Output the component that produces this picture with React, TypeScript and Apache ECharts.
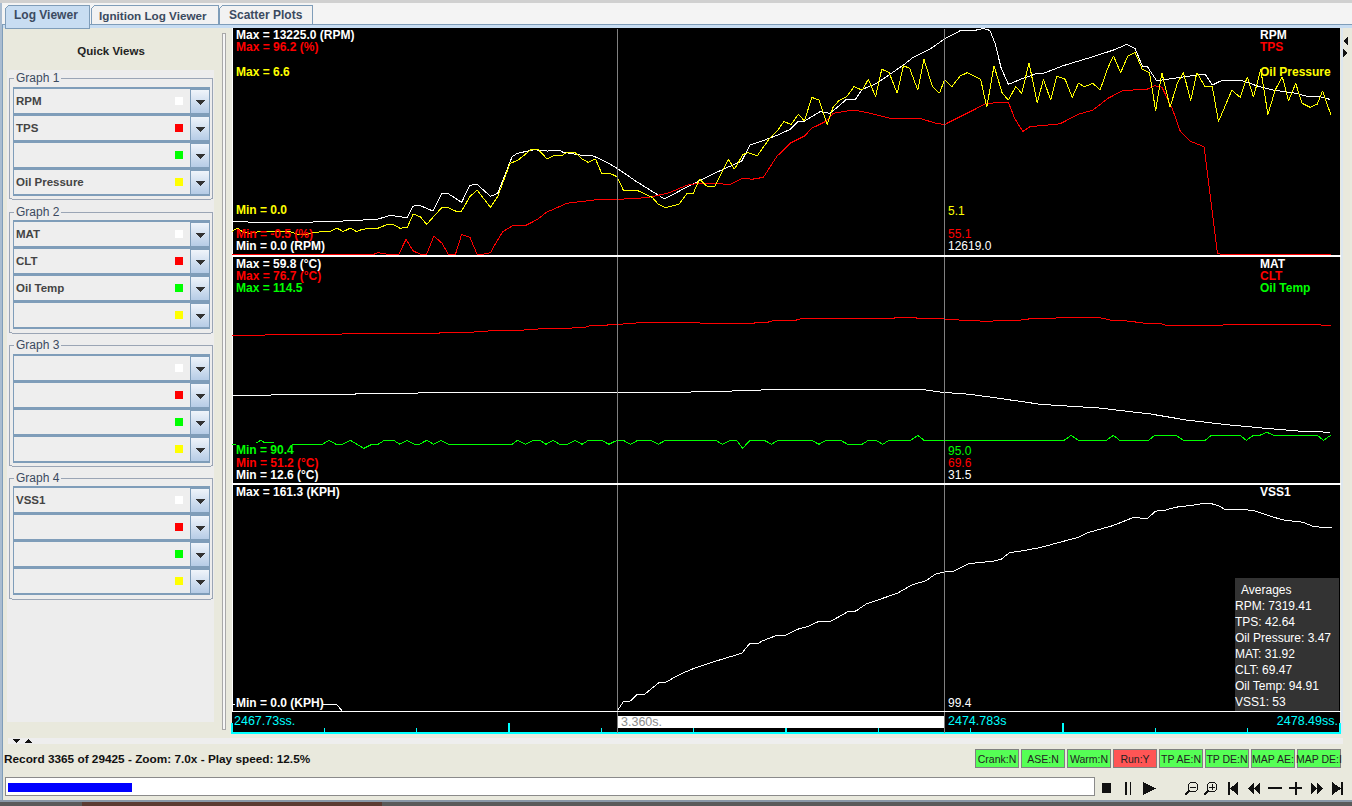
import React, { useEffect, useRef } from "react";
import * as echarts from "echarts";

// elapsed seconds from the left edge of the view, value
const rpm = [[0,1919],[0.3,1884],[0.63,1884],[0.95,1919],[1.27,2018],[1.42,2077],[1.54,2293],[1.7,2153],[1.76,2837],[1.83,2855],[1.95,2545],[2.04,3598],[2.1,3557],[2.23,3054],[2.31,4048],[2.38,4107],[2.51,3405],[2.58,3580],[2.72,5721],[2.77,5920],[2.89,6072],[2.94,6131],[3.06,6055],[3.19,6072],[3.21,5996],[3.38,5821],[3.51,5762],[3.64,5394],[3.74,5043],[3.86,4551],[3.93,4259],[4.06,3773],[4.2,3247],[4.35,3732],[4.57,4417],[4.74,4902],[4.95,5470],[5.03,6406],[5.13,6599],[5.3,6991],[5.42,7324],[5.5,7792],[5.56,7810],[5.71,8354],[5.81,8260],[5.97,9097],[6.05,9038],[6.12,9664],[6.26,10015],[6.52,11086],[6.61,11513],[6.78,12022],[6.92,12619],[7.07,13092],[7.2,13092],[7.29,13225],[7.36,13116],[7.41,12355],[7.47,10893],[7.54,9957],[7.68,10308],[7.82,10600],[7.88,10600],[8.07,11045],[8.36,11571],[8.56,11963],[8.69,12297],[8.77,12063],[8.84,11027],[8.89,10986],[8.98,10167],[9.14,10308],[9.37,10501],[9.45,10559],[9.52,9916],[9.62,10208],[9.79,10208],[9.98,9816],[10.11,9623],[10.34,9430],[10.45,9231],[10.57,9231],[10.66,9079]];
const tps = [[0,-0.5],[1.37,-0.5],[1.42,0.3],[1.51,-0.4],[1.62,-0.4],[1.69,6],[1.76,1],[1.83,-0.4],[1.89,-0.4],[1.96,7.4],[2.04,4.3],[2.1,-0.4],[2.17,-0.4],[2.23,8.1],[2.31,6.9],[2.38,-0.4],[2.44,-0.4],[2.51,0.3],[2.57,5],[2.63,9.3],[2.72,11.7],[2.86,12.1],[2.97,14.6],[3.06,17.8],[3.12,18.8],[3.25,21.4],[3.38,22.1],[3.57,23.1],[3.89,23.3],[4.08,24.2],[4.25,26],[4.42,29.2],[4.54,30],[4.71,29.8],[4.84,29.5],[4.96,32.1],[5.05,31.7],[5.16,32.5],[5.29,41.4],[5.42,47.1],[5.56,50.2],[5.63,53.5],[5.76,56.3],[5.84,59.9],[5.97,60.9],[6.05,61.2],[6.2,59.9],[6.39,57.8],[6.68,57.8],[6.83,55.7],[6.92,55.1],[7.04,57.8],[7.33,64.2],[7.54,64.6],[7.6,57.8],[7.68,52.1],[7.75,54.2],[8.04,55.4],[8.22,59.5],[8.36,61.3],[8.51,66.4],[8.65,69.6],[8.89,70.3],[8.96,71.7],[9.03,71.1],[9.13,62.1],[9.21,52.1],[9.3,48.1],[9.44,45.6],[9.57,0],[9.61,-0.5],[10.67,-0.5]];
const oilPressure = [[0,0.67],[0.05,0.77],[0.11,0.65],[0.17,0.62],[0.27,0.67],[0.56,0.67],[0.64,0.59],[0.71,0.57],[0.79,0.65],[0.95,0.67],[1.02,0.77],[1.08,0.67],[1.15,0.77],[1.21,0.67],[1.27,0.74],[1.42,0.77],[1.51,0.88],[1.56,0.88],[1.63,0.77],[1.7,0.78],[1.76,1.18],[1.83,1.1],[1.89,0.88],[2.04,1.38],[2.1,1.37],[2.17,1.27],[2.23,1.27],[2.31,1.69],[2.38,1.88],[2.51,1.38],[2.58,1.69],[2.7,2.66],[2.78,2.76],[2.91,3.08],[2.97,3.08],[3.06,2.79],[3.12,2.88],[3.2,2.88],[3.25,2.98],[3.33,2.98],[3.4,2.79],[3.46,2.69],[3.53,2.79],[3.59,2.37],[3.67,2.37],[3.74,2.27],[3.8,1.88],[3.93,1.88],[4.08,1.67],[4.14,1.47],[4.21,1.37],[4.34,1.47],[4.42,1.79],[4.48,1.79],[4.54,2.2],[4.61,2],[4.69,2],[4.82,2.78],[4.88,2.49],[4.96,2.91],[5.01,2.98],[5.1,2.88],[5.22,3.39],[5.29,3.59],[5.36,3.88],[5.43,3.8],[5.5,4.09],[5.56,3.9],[5.63,4.59],[5.7,4.51],[5.78,3.8],[5.84,4.32],[5.9,4.51],[5.97,4.61],[6.04,4.9],[6.12,4.8],[6.18,5.12],[6.25,4.61],[6.31,5.41],[6.38,5.32],[6.46,4.71],[6.52,5.51],[6.58,5.44],[6.66,4.8],[6.72,5.7],[6.8,4.92],[6.87,4.71],[6.92,5.1],[6.99,4.9],[7.07,5.21],[7.14,5.31],[7.27,5.12],[7.33,4.3],[7.4,5.51],[7.48,4.71],[7.54,4.51],[7.61,4.9],[7.67,4.71],[7.74,5.6],[7.82,4.42],[7.88,5.12],[7.95,4.51],[8.01,5.21],[8.09,5.12],[8.16,4.59],[8.22,5],[8.28,4.9],[8.36,5],[8.43,4.8],[8.5,5.41],[8.56,5.8],[8.63,5.31],[8.7,5.8],[8.77,5.9],[8.84,5.41],[8.91,5.31],[8.97,4.2],[9.03,5.31],[9.11,4.3],[9.18,5],[9.24,5.31],[9.31,4.49],[9.37,5.31],[9.45,4.9],[9.52,4.9],[9.58,3.88],[9.71,4.8],[9.79,4.59],[9.86,5.19],[9.92,4.59],[9.99,5.41],[10.06,4.09],[10.13,4.8],[10.2,5.19],[10.26,4.49],[10.33,5],[10.39,4.42],[10.47,4.3],[10.54,4.39],[10.59,4.78],[10.67,4.09]];
const mat = [[0,30.91],[0.37,30.91],[0.4,31.12],[1.19,31.12],[1.22,31.33],[1.8,31.33],[1.83,31.54],[4.45,31.54],[4.48,31.75],[4.85,31.75],[4.88,31.96],[5.13,31.96],[5.16,32.16],[6.7,32.16],[6.76,31.96],[6.83,31.75],[6.9,31.54],[7.03,31.33],[7.17,31.12],[7.24,30.91],[7.31,30.7],[7.45,30.29],[7.58,29.87],[7.72,29.45],[7.85,29.03],[8.42,28.26],[8.92,27.01],[9.27,25.75],[9.41,25.4],[9.69,24.71],[10.04,24.02],[10.35,23.46],[10.66,23.19]];
const clt = [[0,67.86],[0.3,67.86],[0.35,67.97],[1.05,67.97],[1.1,68.09],[2,68.09],[2.05,68.2],[2.33,68.2],[2.38,68.31],[2.47,68.31],[2.52,68.42],[2.82,68.42],[2.86,68.53],[2.95,68.53],[3,68.65],[3.29,68.65],[3.33,68.76],[3.43,68.76],[3.48,68.99],[3.63,68.99],[3.68,69.1],[3.78,69.1],[3.83,69.21],[3.91,69.21],[3.96,69.33],[4.52,69.33],[4.56,69.21],[5.06,69.21],[5.1,69.33],[5.2,69.33],[5.26,69.55],[5.47,69.55],[5.54,69.78],[6.42,69.78],[6.46,69.89],[6.62,69.89],[6.66,69.78],[6.89,69.78],[6.93,69.67],[7.03,69.67],[7.07,69.55],[7.24,69.55],[7.28,69.44],[7.38,69.44],[7.42,69.55],[7.65,69.55],[7.69,69.67],[7.72,69.67],[7.77,69.78],[7.99,69.78],[8.03,69.89],[8.39,69.89],[8.46,69.78],[8.54,69.55],[8.65,69.55],[8.72,69.44],[8.8,69.33],[8.87,69.21],[9.01,69.21],[9.07,68.99],[9.61,68.99],[9.66,69.1],[10.54,69.1],[10.59,68.99],[10.67,68.99]];
const oilTemp = [[0,94.53],[0.22,94.6],[0.28,94.95],[0.31,94.74],[0.59,94.53],[0.88,94.53],[0.94,94.95],[1.01,94.53],[1.07,94.53],[1.15,94.95],[1.28,94.1],[1.36,94.53],[1.42,94.53],[1.48,94.95],[1.57,94.95],[1.63,94.53],[1.7,94.95],[1.77,94.53],[1.82,94.53],[1.89,94.95],[1.96,94.53],[2.03,94.95],[2.1,94.53],[2.72,94.53],[2.77,94.95],[2.85,94.53],[2.93,94.95],[2.99,94.95],[3.05,94.53],[3.12,94.95],[3.18,94.53],[3.26,94.53],[3.33,94.95],[3.4,94.53],[3.46,94.95],[3.59,94.95],[3.66,94.53],[3.74,94.95],[3.8,94.95],[3.87,94.53],[3.94,94.95],[4.07,94.95],[4.14,94.53],[4.21,94.95],[4.7,94.95],[4.76,94.53],[4.84,94.95],[4.9,94.95],[4.96,94.1],[5.03,94.95],[5.17,94.95],[5.24,94.53],[5.3,94.95],[5.63,94.95],[5.7,94.53],[5.77,94.95],[5.91,94.95],[5.98,94.53],[6.12,94.53],[6.18,94.95],[6.25,94.95],[6.32,94.53],[6.38,94.95],[6.59,94.95],[6.66,95.48],[6.72,94.95],[8.08,94.95],[8.15,95.48],[8.22,94.95],[8.49,94.95],[8.56,95.48],[8.62,94.95],[8.9,94.95],[8.96,95.48],[9.17,95.48],[9.24,94.95],[9.45,94.95],[9.51,95.48],[9.79,95.48],[9.85,94.95],[9.92,95.48],[9.98,95.48],[10.05,95.8],[10.12,95.48],[10.54,95.48],[10.6,94.95],[10.67,95.48]];
const vss1 = [[0,4.3],[1.02,4.3],[1.07,0],[3.74,0],[3.8,6.6],[3.86,6.6],[3.94,12.1],[4.01,12.1],[4.15,20.5],[4.21,20.5],[4.37,26.9],[4.49,30.5],[4.65,34.5],[4.95,41.2],[5.03,48.3],[5.11,48.3],[5.15,50],[5.29,54],[5.37,54],[5.5,58.5],[5.59,60.2],[5.7,64],[5.82,64.2],[5.98,70.9],[6.06,71.4],[6.16,76.4],[6.46,84],[6.6,89.9],[6.74,93],[6.83,97.6],[6.93,99.4],[7.01,99.9],[7.15,104.9],[7.26,106.1],[7.38,106.6],[7.47,108.3],[7.55,113],[7.65,114],[7.84,116.5],[8.22,124],[8.32,127.5],[8.55,132.2],[8.75,138],[8.89,137.5],[8.97,142.7],[9.05,143],[9.16,145.4],[9.32,146.8],[9.42,148],[9.51,148],[9.58,146.5],[9.65,143.5],[9.81,144],[9.94,142.7],[10.13,138],[10.22,136.3],[10.4,134.7],[10.49,132],[10.58,131.1],[10.68,130.8]];
const cursorTimes = [3.74, 6.92];
const viewSpan = 10.76;

const rangeRpm = [0, 13225];
const rangeTps = [-0.5, 96.2];
const rangeOil = [0, 6.6];
const rangeMat = [12.6, 59.8];
const rangeClt = [51.2, 76.7];
const rangeOilTemp = [90.4, 114.5];
const rangeVss = [0, 161.3];

const slots = [
  { title: "Graph 1", names: ["RPM", "TPS", "", "Oil Pressure"] },
  { title: "Graph 2", names: ["MAT", "CLT", "Oil Temp", ""] },
  { title: "Graph 3", names: ["", "", "", ""] },
  { title: "Graph 4", names: ["VSS1", "", "", ""] },
];
const averages = ["RPM: 7319.41", "TPS: 42.64", "Oil Pressure: 3.47", "MAT: 31.92", "CLT: 69.47", "Oil Temp: 94.91", "VSS1: 53"];
const flags = [
  ["Crank:N", false], ["ASE:N", false], ["Warm:N", false], ["Run:Y", true],
  ["TP AE:N", false], ["TP DE:N", false], ["MAP AE:", false], ["MAP DE:I", false],
] as [string, boolean][];

const FF = '"Liberation Sans"';
const WHITE = "#FFFFFF", RED = "#FF0000", YEL = "#FFFF00", GRN = "#00FF00", CYAN = "#00FFFF";
const swatches = [WHITE, RED, GRN, YEL];

function rect(x: number, y: number, w: number, h: number, fill: any, stroke?: string, lw = 1, z = -1, r = 0) {
  return { type: "rect", z, silent: true, shape: { x, y, width: w, height: h, r }, style: { fill, stroke: stroke || "none", lineWidth: lw } };
}
function txt(x: number, y: number, text: string, fill: string, size = 12, weight = "normal", align = "left", z = 10) {
  return {
    type: "text", z, silent: true, x, y,
    style: { text, fill, font: `${weight} ${size}px ${FF}`, textAlign: align, align, textVerticalAlign: "middle", verticalAlign: "middle" },
  };
}
function poly(points: number[][], fill: string, z = 5) {
  return { type: "polygon", z, silent: true, shape: { points }, style: { fill } };
}
function seg(x1: number, y1: number, x2: number, y2: number, stroke: string, lw = 1, z = 5) {
  return { type: "line", z, silent: true, shape: { x1, y1, x2, y2 }, style: { stroke, lineWidth: lw } };
}

function buildChrome() {
  const g: any[] = [];
  // frame and top bar
  g.push(rect(0, 0, 1352, 806, "#E9E9DD"));
  g.push(rect(0, 0, 1352, 3, "#D0D0D0"));
  g.push(rect(0, 3, 1352, 22, "#F4F4F4"));
  g.push(rect(0, 24, 1352, 1, "#7F9DB9"));
  g.push(rect(0, 25, 1352, 3, "#C8DDF2"));
  g.push(rect(0, 3, 2, 798, "#A9BCD0"));
  g.push(rect(2, 24, 1, 777, "#7F9DB9"));
  // tabs
  g.push({ type: "polygon", z: -1, silent: true, shape: { points: [[5, 9], [9, 5], [89, 5], [89, 28], [5, 28]] }, style: { fill: "#C8DDF2", stroke: "#7F9DB9", lineWidth: 1 } });
  g.push({ type: "polygon", z: -1, silent: true, shape: { points: [[91, 9], [95, 5], [218, 5], [218, 24], [91, 24]] }, style: { fill: "#F2F2F2", stroke: "#7F9DB9", lineWidth: 1 } });
  g.push({ type: "polygon", z: -1, silent: true, shape: { points: [[219, 9], [223, 5], [312, 5], [312, 24], [219, 24]] }, style: { fill: "#F2F2F2", stroke: "#7F9DB9", lineWidth: 1 } });
  g.push(txt(14, 15, "Log Viewer", "#3B4A60", 12, "bold"));
  g.push(txt(99, 15, "Ignition Log Viewer", "#3B4A60", 11.7, "bold"));
  g.push(txt(229, 15, "Scatter Plots", "#3B4A60", 12, "bold"));
  // left panel
  g.push(rect(7, 70, 207, 652, "#EDEDED"));
  g.push(txt(111, 51, "Quick Views", "#222222", 11.5, "bold", "center"));
  const titleY = [78, 212, 345, 478];
  const firstRow = [101, 234, 368, 500];
  slots.forEach((s, gi) => {
    const ty = titleY[gi];
    g.push(rect(9.5, ty, 203, 121, "none", "#9AA5B5", 1, -1, 2));
    g.push(rect(14, ty - 6, 47, 12, "#EDEDED"));
    g.push(txt(16, ty, s.title, "#3B4A60", 12));
    s.names.forEach((name, i) => {
      const cy = firstRow[gi] + i * 27;
      g.push(rect(13.5, cy - 13, 196, 26, "#EEEEEE", "#7F9DB9", 1.5));
      g.push(rect(190.5, cy - 12, 19, 24, { type: "linear", x: 0, y: 0, x2: 0, y2: 1, colorStops: [{ offset: 0, color: "#F2F6FB" }, { offset: 1, color: "#B6CCE6" }] }, "#7F9DB9", 1));
      g.push(poly([[195, cy - 1], [205, cy - 1], [200, cy + 4]], "#333333"));
      g.push(rect(175, cy - 4, 8, 8, swatches[i]));
      if (name) g.push(txt(16, cy, name, "#444444", 11.5, "bold"));
    });
  });
  // splitter
  g.push(rect(222.5, 33, 3, 696, "#F6F6F6", "#A8A8A8", 1));
  // chart background and separators
  g.push(rect(232, 28, 1108, 705, "#000000"));
  g.push(rect(232, 28, 1, 684, WHITE));
  g.push(rect(232, 255, 1109, 2, WHITE));
  g.push(rect(232, 483, 1109, 2, WHITE));
  g.push(rect(232, 711, 1109, 1, WHITE));
  // right edge
  g.push(rect(1341, 28, 2, 705, "#DCE6F0"));
  g.push(poly([[1348, 37], [1348, 45], [1343, 41]], "#111111"));
  g.push(poly([[1343, 49], [1343, 57], [1348, 53]], "#111111"));
  // panel texts
  const L = 236, R = 1260, C = 948;
  g.push(txt(L, 35, "Max = 13225.0 (RPM)", WHITE, 12, "bold"));
  g.push(txt(L, 47, "Max = 96.2 (%)", RED, 12, "bold"));
  g.push(txt(L, 72, "Max = 6.6", YEL, 12, "bold"));
  g.push(txt(L, 210, "Min = 0.0", YEL, 12, "bold"));
  g.push(txt(L, 234, "Min = -0.5 (%)", RED, 12, "bold"));
  g.push(txt(L, 246, "Min = 0.0 (RPM)", WHITE, 12, "bold"));
  g.push(txt(R, 35, "RPM", WHITE, 12, "bold"));
  g.push(txt(R, 47, "TPS", RED, 12, "bold"));
  g.push(txt(R, 72, "Oil Pressure", YEL, 12, "bold"));
  g.push(txt(C, 211, "5.1", YEL));
  g.push(txt(C, 234, "55.1", RED));
  g.push(txt(C, 246, "12619.0", WHITE));
  g.push(txt(L, 263.5, "Max = 59.8 (°C)", WHITE, 12, "bold"));
  g.push(txt(L, 275.5, "Max = 76.7 (°C)", RED, 12, "bold"));
  g.push(txt(L, 287.5, "Max = 114.5", GRN, 12, "bold"));
  g.push(rect(236, 443, 56, 14, "#000000", undefined, 1, 9));
  g.push(txt(L, 450, "Min = 90.4", GRN, 12, "bold"));
  g.push(txt(L, 462.5, "Min = 51.2 (°C)", RED, 12, "bold"));
  g.push(txt(L, 475, "Min = 12.6 (°C)", WHITE, 12, "bold"));
  g.push(txt(R, 263.5, "MAT", WHITE, 12, "bold"));
  g.push(txt(R, 275.5, "CLT", RED, 12, "bold"));
  g.push(txt(R, 287.5, "Oil Temp", GRN, 12, "bold"));
  g.push(txt(C, 450.5, "95.0", GRN));
  g.push(txt(C, 463, "69.6", RED));
  g.push(txt(C, 475, "31.5", WHITE));
  g.push(txt(L, 492, "Max = 161.3 (KPH)", WHITE, 12, "bold"));
  g.push(txt(R, 492, "VSS1", WHITE, 12, "bold"));
  g.push(rect(235, 697, 88, 12, "#000000", undefined, 1, 9));
  g.push(txt(L, 703, "Min = 0.0 (KPH)", WHITE, 12, "bold"));
  g.push(txt(C, 703, "99.4", WHITE));
  // averages
  g.push(rect(1235, 578, 104, 133, "#333333", undefined, 1, 9));
  g.push(txt(1241, 590, "Averages", WHITE, 12));
  averages.forEach((a, i) => g.push(txt(1235, 606 + i * 16, a, WHITE, 12)));
  // time strip
  g.push(txt(234, 721, "2467.73ss.", CYAN, 12.5));
  g.push(txt(621, 722, "3.360s.", "#8A8A8A", 12.5));
  g.push(txt(948, 721, "2474.783s", CYAN, 12.5));
  g.push(txt(1338, 721, "2478.49ss.", CYAN, 12.5, "normal", "right"));
  // lower divider
  g.push(rect(8, 738, 1335, 6, "#EEEEEE"));
  g.push(poly([[12, 739], [20, 739], [16, 743]], "#111111"));
  g.push(poly([[24, 743], [32, 743], [28, 739]], "#111111"));
  g.push(txt(4, 759, "Record 3365 of 29425 - Zoom: 7.0x - Play speed: 12.5%", "#111111", 11.8, "bold"));
  // status flags
  flags.forEach(([label, on], i) => {
    const x = 975 + i * 46;
    g.push(rect(x + 0.5, 749.5, 43, 18, on ? "#FF5555" : "#55FF55", "#808080", 1));
    g.push(txt(x + 22, 759, label, "#222222", 10.5, "normal", "center"));
  });
  // progress bar
  g.push(rect(5.5, 777.5, 1089, 18, "#FFFFFF", "#8A8A8A", 1));
  g.push(rect(8, 783, 123.5, 9, "#0000FF"));
  // transport icons
  const k = "#111111";
  g.push(rect(1102, 783, 9, 10, k, undefined, 1, 5));
  g.push(rect(1125, 782, 1.5, 13, k, undefined, 1, 5));
  g.push(rect(1129.5, 782, 1.5, 13, k, undefined, 1, 5));
  g.push(poly([[1143, 782], [1156, 788.5], [1143, 795]], k));
  [1193, 1212].forEach((cx, i) => {
    g.push({ type: "circle", z: 5, silent: true, shape: { cx, cy: 787, r: 5 }, style: { fill: "none", stroke: k, lineWidth: 1 } });
    g.push(seg(cx - 4, 791, cx - 8, 795, k, 1.5));
    g.push(seg(cx - 3, 787, cx + 3, 787, k, 1));
    if (i) g.push(seg(cx, 784, cx, 790, k, 1));
  });
  g.push(rect(1228, 782, 2, 13, k, undefined, 1, 5));
  g.push(poly([[1238, 782], [1238, 795], [1230, 788.5]], k));
  g.push(poly([[1254, 782], [1254, 795], [1248, 788.5]], k));
  g.push(poly([[1260, 782], [1260, 795], [1254, 788.5]], k));
  g.push(rect(1268, 787, 14, 2, k, undefined, 1, 5));
  g.push(rect(1289, 787, 13, 2, k, undefined, 1, 5));
  g.push(rect(1294.5, 782, 2, 13, k, undefined, 1, 5));
  g.push(poly([[1311, 782], [1311, 795], [1317, 788.5]], k));
  g.push(poly([[1317, 782], [1317, 795], [1323, 788.5]], k));
  g.push(poly([[1332, 782], [1332, 795], [1341, 788.5]], k));
  g.push(rect(1341, 782, 2, 13, k, undefined, 1, 5));
  // window bottom edge and desktop
  g.push(rect(0, 800, 1352, 2, "#8A98A8"));
  g.push(rect(0, 802, 1352, 4, "#5A5A5A"));
  g.push(rect(82, 802, 300, 4, "#5C3B32"));
  return g;
}

const cursorMark = {
  silent: true, symbol: ["none", "none"], animation: false, label: { show: false },
  lineStyle: { color: "#808080", width: 1, type: "solid", opacity: 1 },
  data: cursorTimes.map((t) => ({ xAxis: t })),
};

function line(name: string, data: number[][], color: string, xAxisIndex: number, yAxisIndex: number, withCursor = false) {
  return {
    name, type: "line", data, xAxisIndex, yAxisIndex, showSymbol: false, symbol: "none", clip: false, silent: true,
    lineStyle: { color, width: 1 }, itemStyle: { color }, markLine: withCursor ? cursorMark : undefined,
  };
}
function yAx(gridIndex: number, r: number[]) {
  return { type: "value", gridIndex, min: r[0], max: r[1], show: false, splitLine: { show: false } };
}
function xAx(gridIndex: number) {
  return { type: "value", gridIndex, min: 0, max: viewSpan, show: false, splitLine: { show: false } };
}

export default function App() {
  const ref = useRef<HTMLDivElement>(null);
  useEffect(() => {
    document.body.style.margin = "0";
    document.body.style.overflow = "hidden";
    const chart = echarts.init(ref.current!, undefined, { renderer: "svg" });
    chart.setOption({
      animation: false,
      backgroundColor: "#E9E9DD",
      grid: [
        { left: 232, width: 1108, top: 28.5, height: 226 },
        { left: 232, width: 1108, top: 257, height: 226 },
        { left: 232, width: 1108, top: 485, height: 226 },
        { left: 232, width: 1108, top: 712, height: 20.5 },
      ],
      xAxis: [
        xAx(0), xAx(1), xAx(2),
        {
          type: "value", gridIndex: 3, min: 0, max: viewSpan, interval: viewSpan / 4, position: "bottom",
          axisLine: { show: true, lineStyle: { color: CYAN, width: 2 } },
          axisTick: { show: true, inside: true, length: 10, lineStyle: { color: CYAN, width: 2 } },
          minorTick: { show: true, splitNumber: 3, length: 5, lineStyle: { color: CYAN, width: 1 } },
          axisLabel: { show: false }, splitLine: { show: false }, minorSplitLine: { show: false },
        },
      ],
      yAxis: [
        yAx(0, rangeRpm), yAx(0, rangeTps), yAx(0, rangeOil),
        yAx(1, rangeMat), yAx(1, rangeClt), yAx(1, rangeOilTemp),
        yAx(2, rangeVss), yAx(3, [0, 20.5]),
      ],
      series: [
        line("RPM", rpm, WHITE, 0, 0, true),
        line("TPS", tps, RED, 0, 1),
        line("Oil Pressure", oilPressure, YEL, 0, 2),
        line("MAT", mat, WHITE, 1, 3, true),
        line("CLT", clt, RED, 1, 4),
        line("Oil Temp", oilTemp, GRN, 1, 5),
        line("VSS1", vss1, WHITE, 2, 6, true),
        {
          name: "Selection", type: "line", xAxisIndex: 3, yAxisIndex: 7, showSymbol: false, silent: true,
          data: cursorTimes.map((t) => [t, 10]), lineStyle: { opacity: 0 },
          markArea: {
            silent: true, itemStyle: { color: "#FFFFFF", opacity: 1 }, label: { show: false },
            data: [[{ xAxis: cursorTimes[0], yAxis: 4.5 }, { xAxis: cursorTimes[1], yAxis: 16.5 }]],
          },
          markLine: cursorMark,
        },
      ],
      graphic: { elements: buildChrome() },
    });
    return () => chart.dispose();
  }, []);
  return (
    <>
      <style>{".ecu-chart svg path{shape-rendering:crispEdges}"}</style>
      <div className="ecu-chart" ref={ref} style={{ position: "fixed", left: 0, top: 0, width: 1352, height: 806 }} />
    </>
  );
}
